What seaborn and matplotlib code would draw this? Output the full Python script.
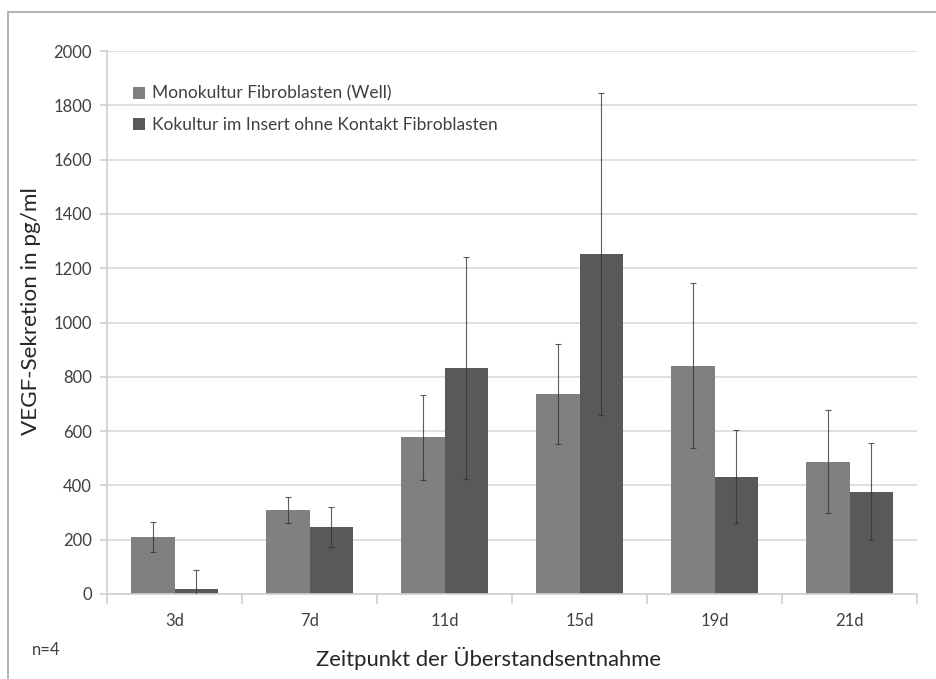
import matplotlib
matplotlib.use("Agg")
import matplotlib.pyplot as plt
from matplotlib.patches import Rectangle
import seaborn as sns
import pandas as pd
import numpy as np

# VEGF secretion per sampling time point (pg/ml), mean and deviation
zeitpunkte = ["3d", "7d", "11d", "15d", "19d", "21d"]
gruppen = ["Monokultur Fibroblasten (Well)", "Kokultur im Insert ohne Kontakt Fibroblasten"]
mono_mittel = [210, 309, 577, 737, 840, 487]
mono_fehler = [55, 47, 157, 185, 304, 190]
kokultur_mittel = [17, 247, 832, 1252, 432, 377]
kokultur_fehler = [70, 75, 410, 593, 172, 178]
y_ticks = [0, 200, 400, 600, 800, 1000, 1200, 1400, 1600, 1800, 2000]

farben = ["#808080", "#595959"]

df = pd.DataFrame({
    "Zeitpunkt": zeitpunkte * 2,
    "Gruppe": [gruppen[0]] * len(zeitpunkte) + [gruppen[1]] * len(zeitpunkte),
    "Wert": mono_mittel + kokultur_mittel,
})
fehler = [mono_fehler, kokultur_fehler]

sns.set_theme(style="white")
plt.rcParams["font.family"] = ["Lato", "DejaVu Sans"]

fig = plt.figure(figsize=(9.36, 6.79), dpi=100)
ax = fig.add_axes([107 / 936, 1 - 594 / 679, 810 / 936, 543 / 679])

sns.barplot(data=df, x="Zeitpunkt", y="Wert", hue="Gruppe", hue_order=gruppen,
            order=zeitpunkte, palette=farben, width=0.645, gap=0, errorbar=None,
            saturation=1, ax=ax, edgecolor="none", linewidth=0)

# error bars centred on each bar
for container, err, werte in zip(ax.containers, fehler, [mono_mittel, kokultur_mittel]):
    xs = [p.get_x() + p.get_width() / 2 for p in container.patches]
    ax.errorbar(xs, werte, yerr=err, fmt="none", ecolor="#333333",
                elinewidth=0.8, capsize=2.2, capthick=0.8, zorder=5, alpha=0.8)

ax.set_xlim(-0.5, len(zeitpunkte) - 0.5)
ax.set_ylim(0, 2000)
ax.set_yticks(y_ticks)
ax.yaxis.grid(True, color="#d9d9d9", linewidth=1.2)
ax.set_axisbelow(True)

for side in ["top", "right"]:
    ax.spines[side].set_visible(False)
for side in ["left", "bottom"]:
    ax.spines[side].set_color("#d0d0d0")
    ax.spines[side].set_linewidth(1.2)

# category separator ticks on x axis
ax.set_xticks(np.arange(len(zeitpunkte)))
ax.set_xticklabels(zeitpunkte)
ax.tick_params(axis="x", length=0, pad=14, labelsize=12, labelcolor="#404040")
ax.set_xticks(np.arange(len(zeitpunkte) + 1) - 0.5, minor=True)
ax.tick_params(axis="x", which="minor", length=7, color="#d0d0d0", width=1.2, bottom=True)
ax.tick_params(axis="y", length=5, color="#d0d0d0", width=1.2, left=True,
               labelsize=12, labelcolor="#404040", pad=6)

ax.set_xlabel("Zeitpunkt der Überstandsentnahme", fontsize=15.8, color="#262626")
ax.set_ylabel("VEGF-Sekretion in pg/ml", fontsize=16.2, color="#262626")
ax.xaxis.set_label_coords(0.4716, -0.098)
ax.yaxis.set_label_coords(-0.0815, 0.521)

leg = ax.legend(loc="upper left", bbox_to_anchor=(0.013, 0.965), frameon=False,
                fontsize=12.5, handlelength=0.7, handleheight=0.7, handletextpad=0.4,
                labelspacing=0.9, labelcolor="#404040")

fig.text(32 / 936, 1 - 650 / 679, "n=4", fontsize=12, color="#404040", va="center")

# outer chart frame
fig.patches.append(Rectangle((8 / 936, -0.1), 1.2, 1 - 12 / 679 + 0.1,
                             transform=fig.transFigure, fill=False,
                             edgecolor="#a6a6a6", linewidth=1.2))

fig.savefig("out.png", dpi=100)
